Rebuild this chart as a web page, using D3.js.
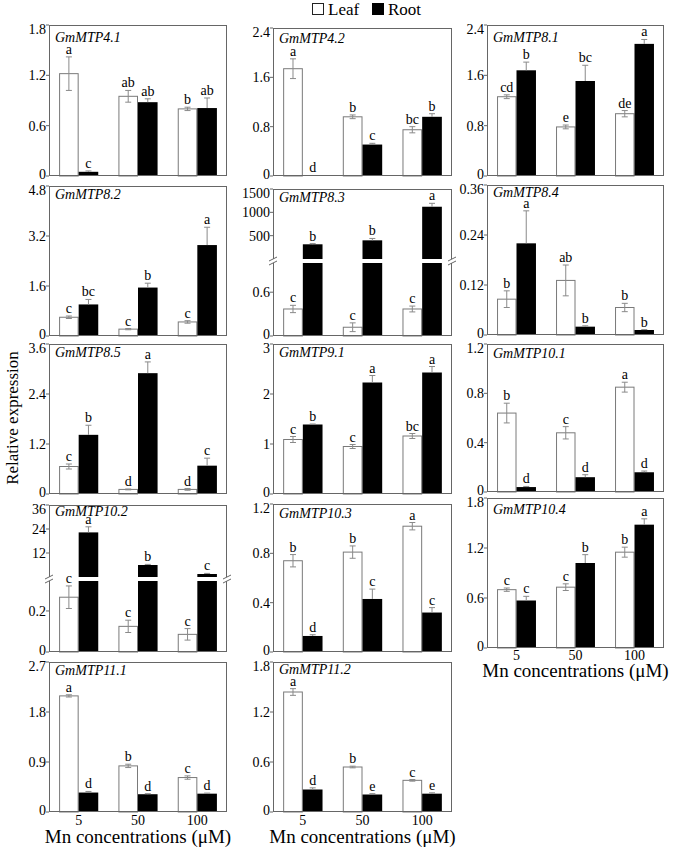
<!DOCTYPE html>
<html><head><meta charset="utf-8">
<script src="https://cdn.jsdelivr.net/npm/d3@7"></script>
<style>body{margin:0;background:#fff} svg{display:block;font-family:"Liberation Serif","Times New Roman",serif}</style>
</head><body><svg id="c" width="677" height="849"></svg>
<script>
// ---------------- DATA ----------------
const concentrations = ["5", "50", "100"];
const series = ["Leaf", "Root"];
const genes = ["GmMTP4.1","GmMTP4.2","GmMTP8.1","GmMTP8.2","GmMTP8.3","GmMTP8.4","GmMTP8.5",
               "GmMTP9.1","GmMTP10.1","GmMTP10.2","GmMTP10.3","GmMTP10.4","GmMTP11.1","GmMTP11.2"];
const leafMean = [[1.22,0.95,0.80],[1.74,0.96,0.75],[1.26,0.78,0.99],[0.60,0.22,0.45],[0.37,0.12,0.37],
                  [0.086,0.131,0.066],[0.66,0.11,0.11],[1.09,0.95,1.16],[0.64,0.48,0.85],[0.267,0.125,0.086],
                  [0.74,0.81,1.02],[0.70,0.73,1.15],[2.09,0.83,0.62],[1.44,0.54,0.38]];
const leafErr  = [[0.20,0.07,0.02],[0.16,0.03,0.05],[0.03,0.03,0.05],[0.04,0.02,0.04],[0.05,0.06,0.04],
                  [0.02,0.037,0.01],[0.06,0.01,0.02],[0.06,0.04,0.05],[0.08,0.05,0.04],[0.055,0.03,0.028],
                  [0.05,0.05,0.03],[0.02,0.04,0.06],[0.02,0.03,0.03],[0.04,0.01,0.01]];
const rootMean = [[0.05,0.88,0.81],[0.01,0.51,0.96],[1.68,1.51,2.10],[1.01,1.55,2.91],[315,400,1120],
                  [0.22,0.02,0.012],[1.42,2.90,0.68],[1.39,2.23,2.43],[0.04,0.12,0.16],[22.3,6,1.5],
                  [0.13,0.43,0.32],[0.57,1.02,1.48],[0.35,0.32,0.33],[0.27,0.21,0.22]];
const rootErr  = [[0.01,0.04,0.12],[0.0,0.02,0.05],[0.13,0.25,0.07],[0.16,0.14,0.57],[15,40,73],
                  [0.078,0.002,0.001],[0.23,0.27,0.18],[0.01,0.14,0.12],[0.005,0.02,0.01],[2.8,0.3,0.3],
                  [0.01,0.08,0.04],[0.05,0.10,0.07],[0.02,0.01,0.01],[0.02,0.01,0.01]];
const leafLetters = [["a","ab","b"],["a","b","bc"],["cd","e","de"],["c","c","c"],["c","c","c"],
                     ["b","ab","b"],["c","d","d"],["c","c","bc"],["b","c","a"],["c","c","c"],
                     ["b","b","a"],["c","c","b"],["a","b","c"],["a","b","c"]];
const rootLetters = [["c","ab","ab"],["d","c","b"],["b","bc","a"],["bc","b","a"],["b","b","a"],
                     ["a","b","b"],["b","a","c"],["b","a","a"],["d","d","d"],["a","b","c"],
                     ["d","c","c"],["c","b","a"],["d","d","d"],["d","e","e"]];
const yTicks = [[0,0.6,1.2,1.8],[0,0.8,1.6,2.4],[0,0.8,1.6,2.4],[0,1.6,3.2,4.8],null,
                [0,0.12,0.24,0.36],[0,1.2,2.4,3.6],[0,1,2,3],[0,0.4,0.8,1.2],null,
                [0,0.4,0.8,1.2],[0,0.6,1.2,1.8],[0,0.9,1.8,2.7],[0,0.6,1.2,1.8]];
// broken-axis panels: lower/upper tick labels and value domains
const brokenLowerTicks = {4:[0,0.6], 9:[0,0.2]};
const brokenUpperTicks = {4:[500,1000,1500], 9:[12,24,36]};
const brokenLowerMax = {4:1.0, 9:0.346};
const brokenUpperDomain = {4:[0,1500], 9:[0,36]};
const xTitle = "Mn concentrations (\u03bcM)";
const yTitle = "Relative expression";

// ---------------- LAYOUT ----------------
const layout = [
 {x:49,w:178,top:25,bottom:176,tt:17},{x:273,w:179,top:28,bottom:176,tt:15},{x:487,w:177,top:25,bottom:176,tt:17},
 {x:49,w:178,top:186,bottom:336,tt:13},{x:273,w:179,top:189,bottom:336,tt:13},{x:487,w:177,top:185,bottom:335,tt:12},
 {x:49,w:178,top:344,bottom:494,tt:13},{x:273,w:179,top:344,bottom:494,tt:13},{x:487,w:177,top:344,bottom:492,tt:14},
 {x:49,w:178,top:505,bottom:652,tt:11},{x:273,w:179,top:504,bottom:652,tt:14},{x:487,w:177,top:498,bottom:648,tt:16},
 {x:49,w:178,top:662,bottom:812,tt:13},{x:273,w:179,top:662,bottom:812,tt:12}
];
const breakGeom = {4:{lowerTop:263, upperBottom:259}, 9:{lowerTop:581, upperBottom:577}};
const xAxisAt = {11:{tick:660,title:677}, 12:{tick:825,title:843}, 13:{tick:825,title:843}};

const svg = d3.select("#c");
const frameCol = "#666", errCol = "#8a8a8a";

// legend
const lg = svg.append("g");
lg.append("rect").attr("x",312.5).attr("y",3.5).attr("width",11).attr("height",11).attr("fill","#fff").attr("stroke","#222").attr("stroke-width",1);
lg.append("text").attr("x",328).attr("y",15).attr("font-size",17).text(series[0]);
lg.append("rect").attr("x",372).attr("y",3).attr("width",12).attr("height",12).attr("fill","#000");
lg.append("text").attr("x",388).attr("y",15).attr("font-size",17).text(series[1]);

// y title
svg.append("text").attr("transform","translate(18,418) rotate(-90)").attr("text-anchor","middle")
  .attr("font-size",17).text(yTitle);

genes.forEach((gene, i) => {
  const L = layout[i];
  const g = svg.append("g");
  const x0 = d3.scaleBand().domain(concentrations).range([L.x, L.x + L.w]).paddingInner(0.34).paddingOuter(0.17);
  const x1 = d3.scaleBand().domain(series).range([0, x0.bandwidth()]);
  const broken = breakGeom[i];
  let yOf, lowerMax = Infinity, yLow, yUp;
  if (broken) {
    lowerMax = brokenLowerMax[i];
    yLow = d3.scaleLinear().domain([0, lowerMax]).range([L.bottom, broken.lowerTop]);
    yUp = d3.scaleLinear().domain(brokenUpperDomain[i]).range([broken.upperBottom, L.top]);
    yOf = v => v <= lowerMax ? yLow(v) : yUp(v);
  } else {
    const t = yTicks[i];
    yLow = d3.scaleLinear().domain([0, t[t.length-1]]).range([L.bottom, L.top]);
    yOf = v => yLow(v);
  }
  // bars
  concentrations.forEach((c, j) => {
    series.forEach((s, k) => {
      const v = k === 0 ? leafMean[i][j] : rootMean[i][j];
      const e = k === 0 ? leafErr[i][j] : rootErr[i][j];
      const lab = k === 0 ? leafLetters[i][j] : rootLetters[i][j];
      const bx = x0(c) + x1(s), bw = x1.bandwidth();
      const fill = k === 0 ? "#fff" : "#000";
      if (broken && v > lowerMax) {
        g.append("rect").attr("x",bx).attr("y",broken.lowerTop).attr("width",bw).attr("height",L.bottom-broken.lowerTop).attr("fill",fill);
        g.append("rect").attr("x",bx).attr("y",yUp(v)).attr("width",bw).attr("height",broken.upperBottom-yUp(v)).attr("fill",fill);
      } else {
        const y = yOf(v);
        const r = g.append("rect").attr("x",bx + (k===0?0.5:0)).attr("y",y).attr("width",bw-(k===0?1:0)).attr("height",Math.max(0,L.bottom-y)).attr("fill",fill);
        if (k === 0) r.attr("stroke","#7a7a7a").attr("stroke-width",1);
      }
      // error bars
      const cx = bx + bw/2;
      const yT = yOf(v + e), yB = k === 0 ? yOf(Math.max(0, v - e)) : yOf(v);
      if (e > 0) {
        g.append("line").attr("x1",cx).attr("x2",cx).attr("y1",yT).attr("y2",yB).attr("stroke",errCol).attr("stroke-width",1);
        g.append("line").attr("x1",cx-3).attr("x2",cx+3).attr("y1",yT).attr("y2",yT).attr("stroke",errCol).attr("stroke-width",1);
        if (k === 0) g.append("line").attr("x1",cx-3).attr("x2",cx+3).attr("y1",yB).attr("y2",yB).attr("stroke",errCol).attr("stroke-width",1);
      }
      g.append("text").attr("x",cx).attr("y",yT - 3).attr("text-anchor","middle").attr("font-size",14).attr("fill","#000").text(lab);
    });
  });
  // frame
  g.append("rect").attr("x",L.x+0.5).attr("y",L.top+0.5).attr("width",L.w-1).attr("height",L.bottom-L.top-1)
    .attr("fill","none").attr("stroke",frameCol).attr("stroke-width",1);
  // ticks
  const drawTicks = (vals, sc, isTop, isBottom) => {
    vals.forEach((t, n) => {
      const y = sc(t);
      let off = 0;
      if (isBottom && n === 0) off = -2;
      if (isTop && n === vals.length - 1) off = 4;
      g.append("line").attr("x1",L.x-3).attr("x2",L.x).attr("y1",y).attr("y2",y).attr("stroke",frameCol);
      g.append("text").attr("x",L.x-3).attr("y",y + off).attr("dy","0.35em").attr("text-anchor","end").attr("font-size",14).text(String(t));
    });
  };
  if (broken) {
    drawTicks(brokenLowerTicks[i], yLow, false, true);
    drawTicks(brokenUpperTicks[i], yUp, true, false);
    [L.x, L.x + L.w].forEach(xx => {
      g.append("rect").attr("x",xx-3).attr("y",broken.upperBottom).attr("width",6).attr("height",broken.lowerTop-broken.upperBottom).attr("fill","#fff");
      [broken.upperBottom, broken.lowerTop].forEach(yy => {
        g.append("line").attr("x1",xx-4).attr("x2",xx+4).attr("y1",yy+2).attr("y2",yy-2).attr("stroke",frameCol).attr("stroke-width",1);
      });
    });
  } else {
    drawTicks(yTicks[i], yLow, true, true);
  }
  // title
  g.append("text").attr("x",L.x+6).attr("y",L.top+L.tt).attr("font-size",14).attr("font-style","italic").text(gene);
  // x axis
  const xa = xAxisAt[i];
  if (xa) {
    concentrations.forEach(c => {
      g.append("text").attr("x",x0(c)+x0.bandwidth()/2).attr("y",xa.tick).attr("text-anchor","middle").attr("font-size",14).text(c);
    });
    g.append("text").attr("x",L.x+L.w/2).attr("y",xa.title).attr("text-anchor","middle").attr("font-size",19).text(xTitle);
  }
});
</script>
</body></html>
